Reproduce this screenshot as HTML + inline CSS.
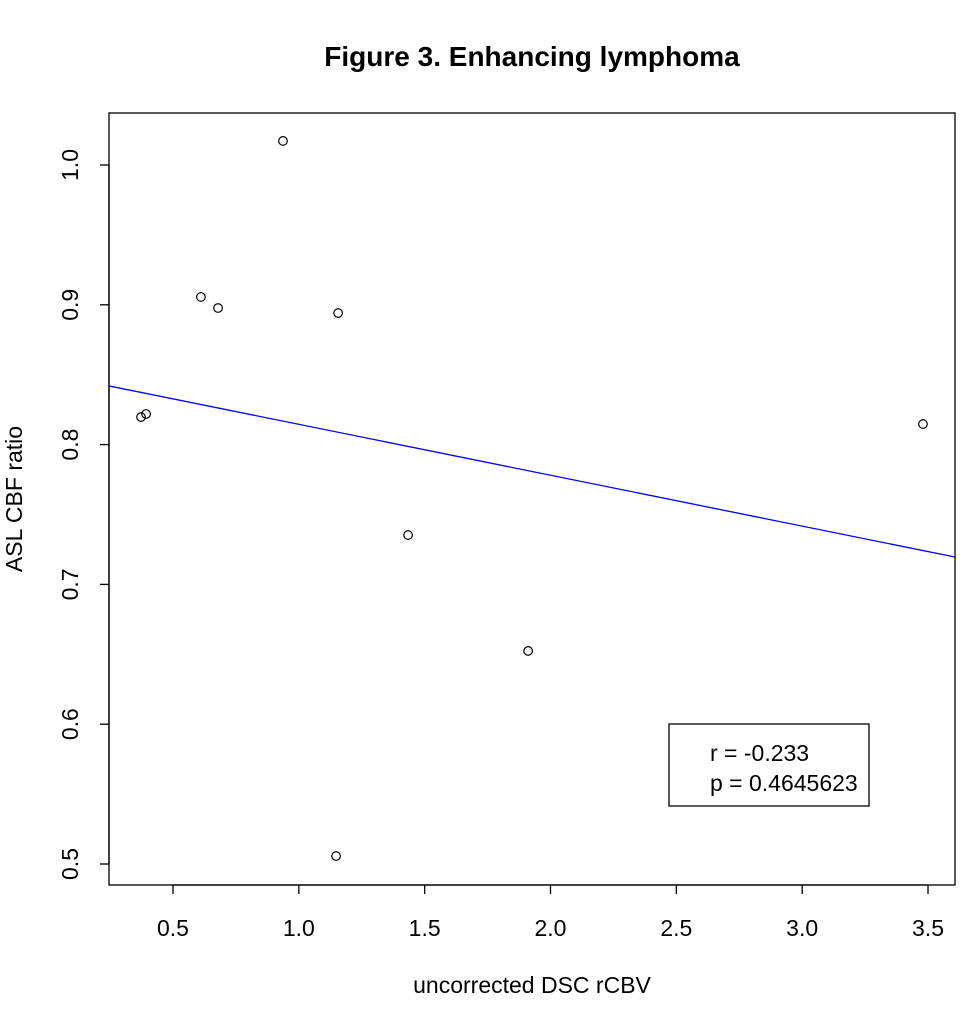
<!DOCTYPE html>
<html><head><meta charset="utf-8"><style>
body{margin:0;background:#fff;}
svg text{font-family:"Liberation Sans",Arial,sans-serif;fill:#000;}
</style></head><body>
<svg id="chart" width="977" height="1018" viewBox="0 0 977 1018" xmlns="http://www.w3.org/2000/svg">
<rect width="977" height="1018" fill="#fff"/>
<text x="532" y="66" font-size="28" font-weight="bold" text-anchor="middle">Figure 3. Enhancing lymphoma</text>
<rect x="109" y="113" width="846" height="772" fill="none" stroke="#000" stroke-width="1.3"/>
<g id="xaxis"></g>
<g id="yaxis"></g>
<g id="line"></g>
<g id="pts"></g>
<text x="532" y="993" font-size="23" text-anchor="middle">uncorrected DSC rCBV</text>
<text transform="translate(22,499) rotate(-90)" font-size="23" text-anchor="middle">ASL CBF ratio</text>
<g>
<rect x="669" y="724" width="200" height="82" fill="#fff" stroke="#000" stroke-width="1.3"/>
<text x="710" y="761" font-size="23">r = -0.233</text>
<text x="710" y="791" font-size="23">p = 0.4645623</text>
</g>
</svg>
<script>
const xTicks=[0.5,1.0,1.5,2.0,2.5,3.0,3.5];
const xTickLabels=["0.5","1.0","1.5","2.0","2.5","3.0","3.5"];
const yTicks=[0.5,0.6,0.7,0.8,0.9,1.0];
const yTickLabels=["0.5","0.6","0.7","0.8","0.9","1.0"];
const xValues=[0.373,0.393,0.611,0.679,0.937,1.156,1.148,1.434,1.911,3.480];
const yValues=[0.8197,0.8219,0.9056,0.8977,1.0172,0.8941,0.5057,0.7353,0.6524,0.8147];
const lineCoef=[0.8509,-0.0364];
const NS="http://www.w3.org/2000/svg";
const X=v=>173+(v-0.5)*251.67;
const Y=v=>864-(v-0.5)*1398;
const xmin=109,xmax=955;
function mk(t,a,p){const e=document.createElementNS(NS,t);for(const k in a)e.setAttribute(k,a[k]);p.appendChild(e);return e;}
const xa=document.getElementById('xaxis');
mk('line',{x1:X(xTicks[0]),x2:X(xTicks[xTicks.length-1]),y1:885,y2:885,stroke:'#000','stroke-width':1.3},xa);
xTicks.forEach((v,i)=>{
 const t=mk('line',{x1:X(v),x2:X(v),y1:885,y2:894,stroke:'#000','stroke-width':1.3},xa);
 
 
 const l=mk('text',{x:X(v),y:936,'font-size':23,'text-anchor':'middle'},xa);
 l.textContent=xTickLabels[i];
 
 
});
const ya=document.getElementById('yaxis');
mk('line',{x1:109,x2:109,y1:Y(yTicks[0]),y2:Y(yTicks[yTicks.length-1]),stroke:'#000','stroke-width':1.3},ya);
yTicks.forEach((v,i)=>{
 const t=mk('line',{x1:100,x2:109,y1:Y(v),y2:Y(v),stroke:'#000','stroke-width':1.3},ya);
 
 
 const l=mk('text',{transform:`translate(78,${Y(v)}) rotate(-90)`,'font-size':23,'text-anchor':'middle'},ya);
 l.textContent=yTickLabels[i];
 
 
});
const lg=document.getElementById('line');
const vmin=0.5+(xmin-173)/251.67, vmax=0.5+(xmax-173)/251.67;
const rl=mk('line',{x1:xmin,x2:xmax,y1:Y(lineCoef[0]+lineCoef[1]*vmin),y2:Y(lineCoef[0]+lineCoef[1]*vmax),stroke:'#0000ff','stroke-width':1.3},lg);


const pg=document.getElementById('pts');
xValues.forEach((v,i)=>{
 const c=mk('circle',{cx:X(v),cy:Y(yValues[i]),r:4.3,fill:'none',stroke:'#000','stroke-width':1.2},pg);
 
 
});
</script>
</body></html>
